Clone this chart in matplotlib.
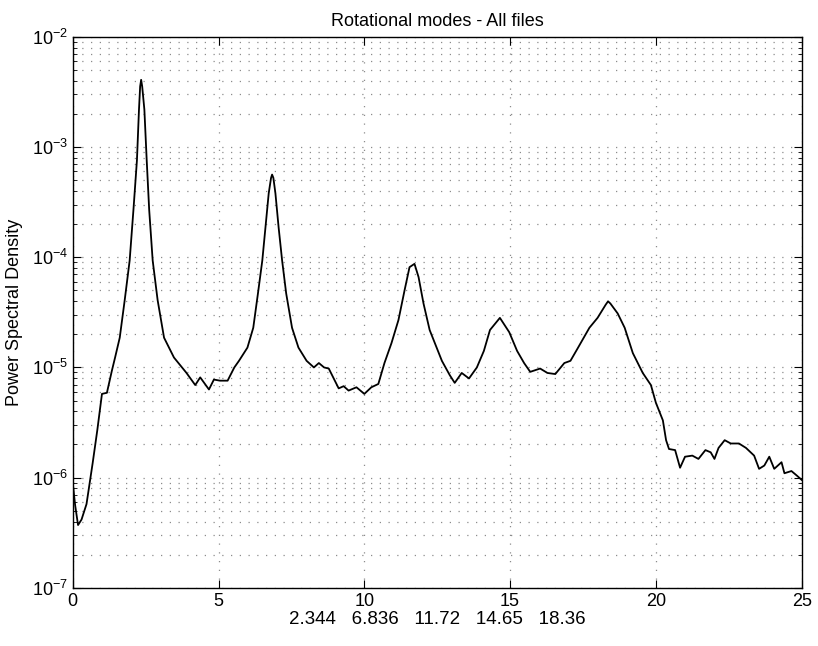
import numpy as np
import matplotlib
matplotlib.use("Agg")
import matplotlib.pyplot as plt
from matplotlib.ticker import LogLocator, FixedLocator, NullFormatter

# Spectral peaks (Hz) printed under the axis
peak_freqs = [2.344, 6.836, 11.72, 14.65, 18.36]

# Averaged PSD, frequency (Hz) and log10 of the power spectral density
freq = [
    0.0, 0.08, 0.18, 0.30, 0.47, 0.68, 0.84, 1.00, 1.17, 1.34, 1.45, 1.61,
    1.78, 1.95, 2.08, 2.20, 2.27, 2.31, 2.344, 2.38, 2.455, 2.535, 2.62, 2.74,
    2.91, 3.13, 3.47, 3.90, 4.20, 4.37, 4.67, 4.84, 5.05, 5.31, 5.54, 5.70,
    5.99, 6.19, 6.35, 6.50, 6.61, 6.72, 6.80, 6.836, 6.88, 6.95, 7.06, 7.18,
    7.32, 7.52, 7.74, 8.02, 8.27, 8.44, 8.62, 8.78, 9.12, 9.29, 9.46, 9.73,
    10.00, 10.24, 10.48, 10.69, 10.93, 11.17, 11.38, 11.55, 11.72, 11.86,
    12.03, 12.24, 12.66, 12.93, 13.10, 13.34, 13.59, 13.86, 14.10, 14.31,
    14.65, 14.97, 15.24, 15.48, 15.69, 16.03, 16.28, 16.55, 16.86, 17.07,
    17.31, 17.72, 18.00, 18.28, 18.36, 18.44, 18.69, 18.93, 19.21, 19.55,
    19.83, 20.00, 20.24, 20.35, 20.45, 20.66, 20.83, 21.00, 21.25, 21.46,
    21.70, 21.88, 22.01, 22.15, 22.36, 22.57, 22.85, 23.09, 23.37, 23.54,
    23.72, 23.89, 24.06, 24.31, 24.41, 24.65, 24.83, 25.0,
]
log_psd = [
    -6.05, -6.25, -6.43, -6.38, -6.24, -5.87, -5.57, -5.24, -5.23, -5.03,
    -4.91, -4.73, -4.39, -4.03, -3.57, -3.12, -2.66, -2.45, -2.39, -2.45,
    -2.66, -3.12, -3.57, -4.03, -4.39, -4.73, -4.91, -5.05, -5.16, -5.09,
    -5.20, -5.11, -5.12, -5.12, -5.00, -4.94, -4.82, -4.64, -4.33, -4.03,
    -3.73, -3.42, -3.28, -3.25, -3.28, -3.42, -3.73, -4.03, -4.33, -4.64,
    -4.82, -4.94, -5.00, -4.96, -5.00, -5.01, -5.19, -5.17, -5.21, -5.18,
    -5.24, -5.18, -5.15, -4.96, -4.78, -4.57, -4.30, -4.09, -4.06, -4.18,
    -4.42, -4.66, -4.94, -5.07, -5.14, -5.05, -5.10, -5.00, -4.85, -4.66,
    -4.55, -4.68, -4.85, -4.96, -5.04, -5.01, -5.05, -5.06, -4.96, -4.94,
    -4.83, -4.64, -4.55, -4.43, -4.40, -4.42, -4.51, -4.64, -4.87, -5.05,
    -5.16, -5.32, -5.48, -5.66, -5.74, -5.75, -5.91, -5.81, -5.80, -5.83,
    -5.75, -5.77, -5.83, -5.73, -5.66, -5.69, -5.69, -5.73, -5.80, -5.92,
    -5.89, -5.81, -5.92, -5.86, -5.96, -5.94, -5.98, -6.02,
]

psd = 10.0 ** np.array(log_psd)

plt.rcParams['font.family'] = ['Liberation Sans', 'DejaVu Sans']

fig = plt.figure(figsize=(8.18, 6.46), dpi=100)
ax = fig.add_axes([0.089, 0.090, 0.891, 0.853])

ax.semilogy(freq, psd, color='black', linewidth=1.3)

ax.set_xlim(0, 25)
ax.set_ylim(1e-7, 1e-2)
ax.xaxis.set_major_locator(FixedLocator([0, 5, 10, 15, 20, 25]))
ax.yaxis.set_major_locator(LogLocator(base=10, numticks=10))
ax.yaxis.set_minor_locator(LogLocator(base=10, subs=np.arange(2, 10), numticks=20))
ax.yaxis.set_minor_formatter(NullFormatter())

# boxed axes with inward ticks, like the old plotting style
ax.tick_params(which='both', direction='in', top=True, right=True,
               labelsize=13)
ax.tick_params(which='major', length=6)
ax.tick_params(which='minor', length=3)

# sparse dotted grid, minor lines included on the log axis
dots = (0, (1, 6))
ax.grid(True, which='major', axis='both', color='0.55', linestyle=dots, linewidth=0.9)
ax.grid(True, which='minor', axis='y', color='0.55', linestyle=dots, linewidth=0.9)

for spine in ax.spines.values():
    spine.set_linewidth(1.0)

ax.set_title('Rotational modes - All files', fontsize=13, pad=8)
ax.set_ylabel('Power Spectral Density', fontsize=13, labelpad=6)
ax.set_xlabel('   '.join(f'{p:.4g}' for p in peak_freqs), fontsize=13.5, labelpad=1)

fig.savefig('out.png', dpi=100)
